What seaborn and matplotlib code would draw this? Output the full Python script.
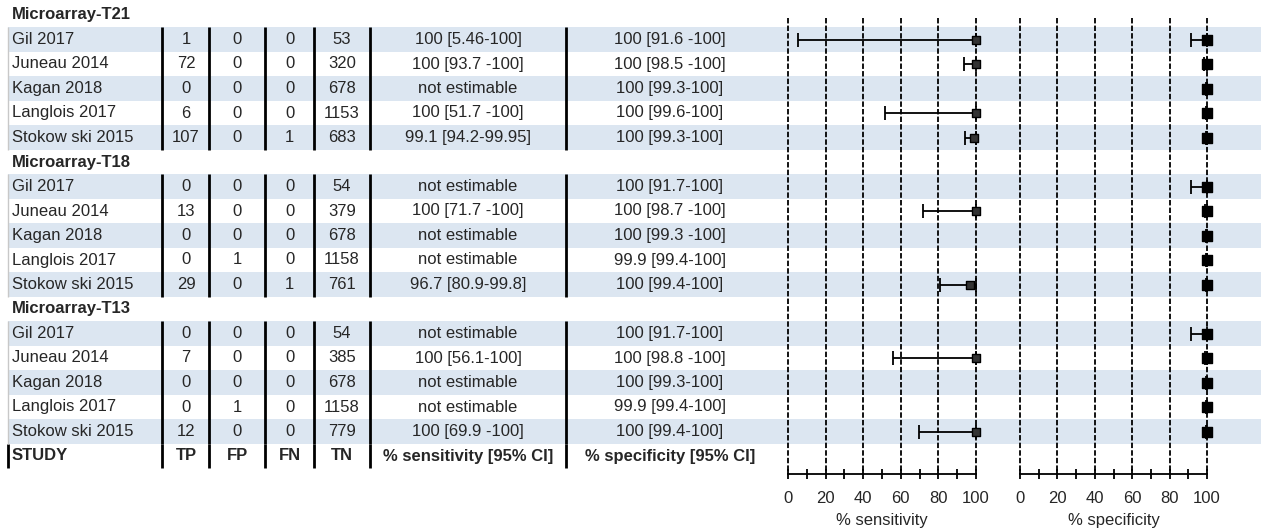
import numpy as np
import pandas as pd
import matplotlib
matplotlib.use("Agg")
import matplotlib.pyplot as plt
import seaborn as sns

# ---- data ----
groups = ["Microarray-T21", "Microarray-T18", "Microarray-T13"]
studies = ["Gil 2017", "Juneau 2014", "Kagan 2018", "Langlois 2017", "Stokow ski 2015"]

tp = [[1, 72, 0, 6, 107], [0, 13, 0, 0, 29], [0, 7, 0, 0, 12]]
fp = [[0, 0, 0, 0, 0], [0, 0, 0, 1, 0], [0, 0, 0, 1, 0]]
fn = [[0, 0, 0, 0, 1], [0, 0, 0, 0, 1], [0, 0, 0, 0, 0]]
tn = [[53, 320, 678, 1153, 683], [54, 379, 678, 1158, 761], [54, 385, 678, 1158, 779]]

sens = [[100, 100, np.nan, 100, 99.1], [np.nan, 100, np.nan, np.nan, 96.7], [np.nan, 100, np.nan, np.nan, 100]]
sens_lo = [[5.46, 93.7, np.nan, 51.7, 94.2], [np.nan, 71.7, np.nan, np.nan, 80.9], [np.nan, 56.1, np.nan, np.nan, 69.9]]
sens_hi = [[100, 100, np.nan, 100, 99.95], [np.nan, 100, np.nan, np.nan, 99.8], [np.nan, 100, np.nan, np.nan, 100]]
sens_txt = [
    ["100 [5.46-100]", "100 [93.7 -100]", "not estimable", "100 [51.7 -100]", "99.1 [94.2-99.95]"],
    ["not estimable", "100 [71.7 -100]", "not estimable", "not estimable", "96.7 [80.9-99.8]"],
    ["not estimable", "100 [56.1-100]", "not estimable", "not estimable", "100 [69.9 -100]"],
]

spec = [[100, 100, 100, 100, 100], [100, 100, 100, 99.9, 100], [100, 100, 100, 99.9, 100]]
spec_lo = [[91.6, 98.5, 99.3, 99.6, 99.3], [91.7, 98.7, 99.3, 99.4, 99.4], [91.7, 98.8, 99.3, 99.4, 99.4]]
spec_hi = [[100, 100, 100, 100, 100], [100, 100, 100, 100, 100], [100, 100, 100, 100, 100]]
spec_txt = [
    ["100 [91.6 -100]", "100 [98.5 -100]", "100 [99.3-100]", "100 [99.6-100]", "100 [99.3-100]"],
    ["100 [91.7-100]", "100 [98.7 -100]", "100 [99.3 -100]", "99.9 [99.4-100]", "100 [99.4-100]"],
    ["100 [91.7-100]", "100 [98.8 -100]", "100 [99.3-100]", "99.9 [99.4-100]", "100 [99.4-100]"],
]

header = ["STUDY", "TP", "FP", "FN", "TN", "% sensitivity [95% CI]", "% specificity [95% CI]"]
ticks = [0, 20, 40, 60, 80, 100]

# ---- long table, one row per study ----
recs = []
for g, grp in enumerate(groups):
    for i, st in enumerate(studies):
        recs.append(dict(group=grp, study=st, row=g * 6 + 1 + i, stripe=(i % 2 == 0),
                         TP=tp[g][i], FP=fp[g][i], FN=fn[g][i], TN=tn[g][i],
                         sens=sens[g][i], sens_lo=sens_lo[g][i], sens_hi=sens_hi[g][i], sens_txt=sens_txt[g][i],
                         spec=spec[g][i], spec_lo=spec_lo[g][i], spec_hi=spec_hi[g][i], spec_txt=spec_txt[g][i]))
df = pd.DataFrame(recs)
study_row = 18

# ---- layout (pixels) ----
W, H = 1261, 531
Y0, PITCH = 15.0, 24.5       # centre of first row, row pitch
AX_BOT = 474                 # pixel of the forest x axis line
col_lines = [162, 209, 265, 314, 370, 566]
col_cent = [12, 186, 237, 289.5, 342, 468, 670]
stripe_col = "#dce6f1"


def row_of(px):
    return (px - Y0) / PITCH


sns.set_theme(style="white")
plt.rcParams["font.family"] = ["Liberation Sans", "DejaVu Sans"]

fig = plt.figure(figsize=(W / 100, H / 100), dpi=100)
ylim = (row_of(AX_BOT), row_of(0))

# table / background axes in pixel x units
ax = fig.add_axes([0, 1 - AX_BOT / H, 1, AX_BOT / H])
ax.set_xlim(0, W)
ax.set_ylim(*ylim)
ax.axis("off")

for _, r in df[df["stripe"]].iterrows():
    ax.axhspan(r["row"] - 0.5, r["row"] + 0.5, xmin=8 / W, xmax=1, color=stripe_col, lw=0, zorder=0)

for g, grp in enumerate(groups):
    top = g * 6 + 0.5
    ax.text(col_cent[0], g * 6, grp, fontsize=12, fontweight="bold", ha="left", va="center")
    ax.vlines(col_lines, top, top + 5, color="black", lw=2, zorder=3)
    ax.vlines([8], top, top + 5, color="#c8c8c8", lw=1, zorder=3)

for _, r in df.iterrows():
    y = r["row"]
    ax.text(col_cent[0], y, r["study"], fontsize=12, ha="left", va="center")
    vals = [r["TP"], r["FP"], r["FN"], r["TN"], r["sens_txt"], r["spec_txt"]]
    for xc, v in zip(col_cent[1:], vals):
        ax.text(xc, y, str(v), fontsize=12, ha="center", va="center")

ax.text(col_cent[0], study_row, header[0], fontsize=12, fontweight="bold", ha="left", va="center")
for xc, h in zip(col_cent[1:], header[1:]):
    ax.text(xc, study_row, h, fontsize=12, fontweight="bold", ha="center", va="center")
ax.vlines([8] + col_lines, study_row - 0.5, study_row + 0.5, color="black", lw=2)


def forest(x0_px, x100_px, left_px, right_px, est, lo, hi, label, mcolor, msize):
    scale = (x100_px - x0_px) / 100.0
    xmin = (left_px - x0_px) / scale
    xmax = (right_px - x0_px) / scale
    fa = fig.add_axes([left_px / W, 1 - AX_BOT / H, (right_px - left_px) / W, AX_BOT / H])
    fa.set_facecolor("none")
    fa.set_xlim(xmin, xmax)
    fa.set_ylim(*ylim)
    for s in ["top", "left", "right"]:
        fa.spines[s].set_visible(False)
    fa.spines["bottom"].set_bounds(0, 100)
    fa.spines["bottom"].set_color("black")
    fa.spines["bottom"].set_linewidth(1.3)
    fa.set_yticks([])
    fa.set_xticks(ticks)
    fa.set_xticks([10, 30, 50, 70, 90], minor=True)
    fa.tick_params(axis="x", which="both", direction="inout", length=7, width=1.3,
                   color="black", bottom=True, labelsize=12, pad=9)
    fa.vlines(ticks, row_of(18), ylim[0], color="black", lw=1.3, linestyles=(0, (3, 1.2)), zorder=1)

    d = df.dropna(subset=[est])
    fa.errorbar(d[est], d["row"], xerr=[d[est] - d[lo], d[hi] - d[est]], fmt="none",
                ecolor="black", elinewidth=1.3, capsize=5, capthick=1.3, zorder=3)
    sns.scatterplot(x=d[est], y=d["row"], ax=fa, marker="s", s=msize, color=mcolor,
                    edgecolor="black", linewidth=1, zorder=5, legend=False)
    fa.set_ylabel("")
    fa.set_xlabel(label, fontsize=12)
    fa.xaxis.set_label_coords((50 - xmin) / (xmax - xmin), -0.083)
    return fa


forest(788, 976, 778, 1000, "sens", "sens_lo", "sens_hi", "% sensitivity", "#333333", 36)
forest(1020, 1207, 1010, 1235, "spec", "spec_lo", "spec_hi", "% specificity", "black", 46)

fig.savefig("out.png", dpi=100)
